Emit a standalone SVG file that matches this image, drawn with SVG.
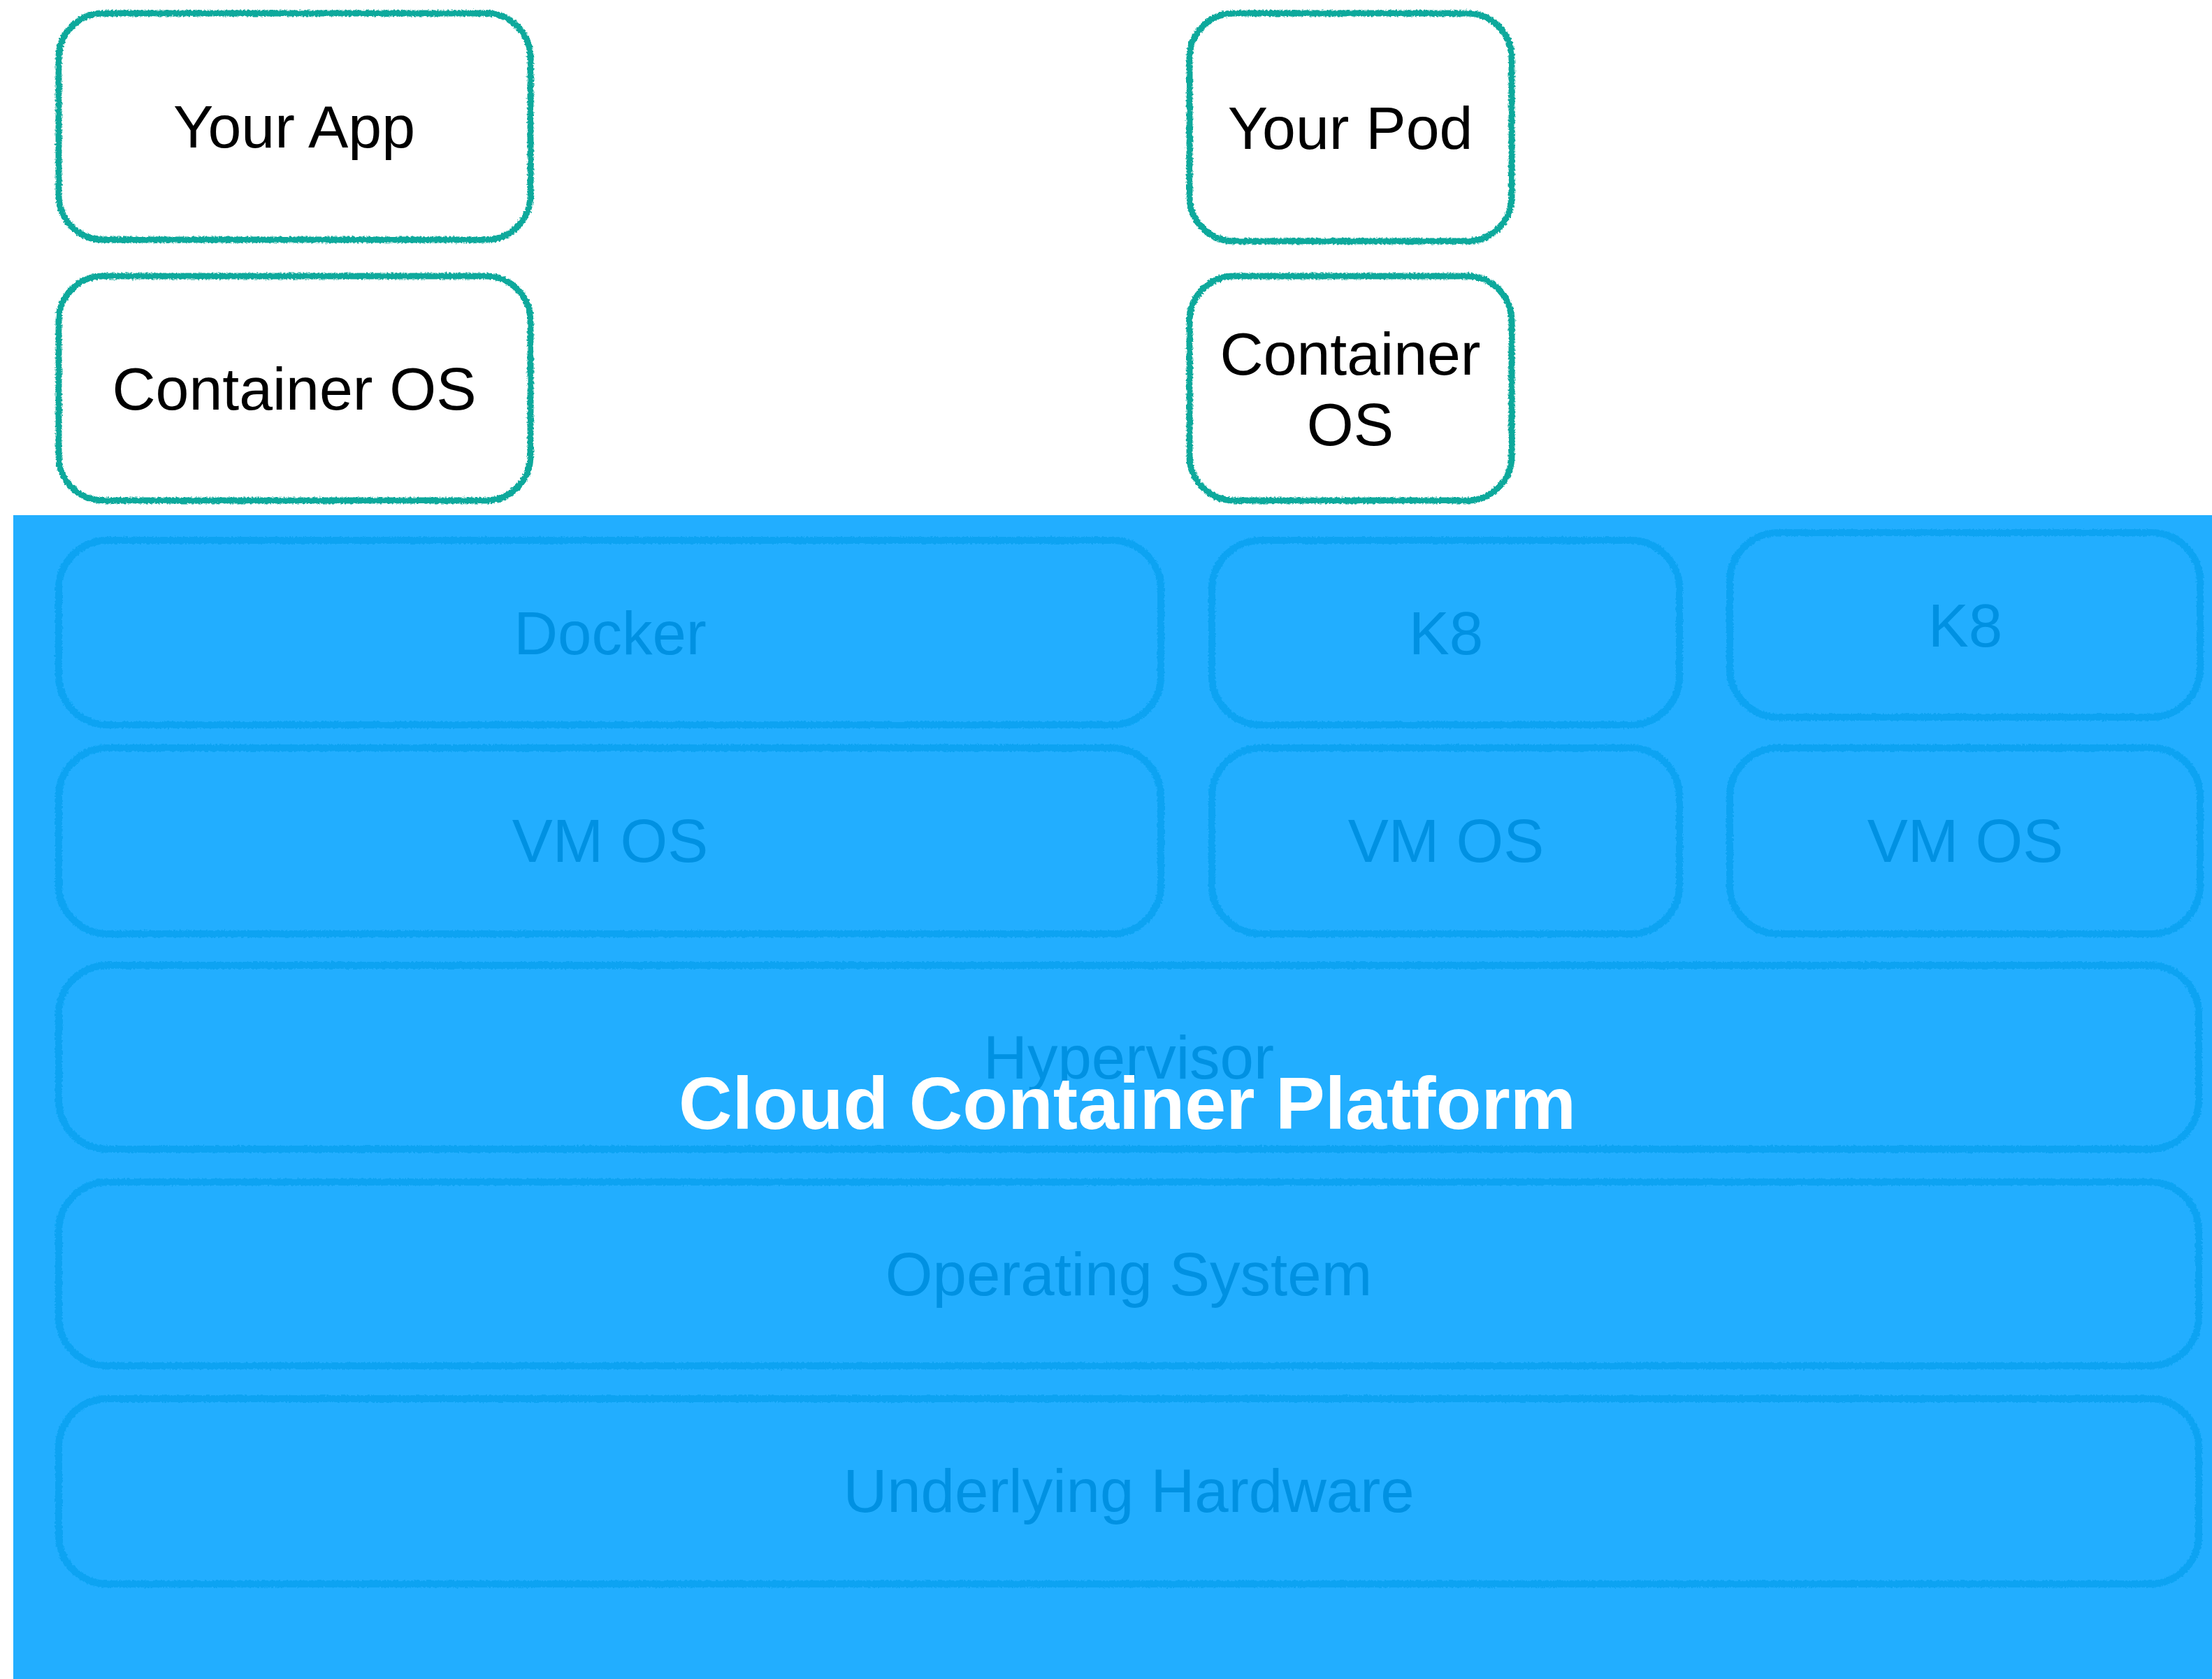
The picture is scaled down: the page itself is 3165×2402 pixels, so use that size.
<svg xmlns="http://www.w3.org/2000/svg" width="3165" height="2402" viewBox="0 0 3165 2402">
<style>
.top{fill:none;stroke:#0FA99C;stroke-width:9}
.low{fill:none;stroke:#0AA3F2;stroke-width:10}
.tt{font-family:"Liberation Sans",Arial,sans-serif;font-size:86px;fill:#000;text-anchor:middle}
.bt{font-family:"Liberation Sans",Arial,sans-serif;font-size:87px;fill:#0091E2;text-anchor:middle}
.title{font-family:"Liberation Sans",Arial,sans-serif;font-size:106px;font-weight:bold;fill:#fff;text-anchor:middle}
</style>
<defs>
<filter id="rough" x="-5%" y="-10%" width="110%" height="120%">
<feTurbulence type="fractalNoise" baseFrequency="0.35" numOctaves="2" seed="3" result="n"/>
<feDisplacementMap in="SourceGraphic" in2="n" scale="5" xChannelSelector="R" yChannelSelector="G"/>
</filter>
</defs>
<rect x="0" y="0" width="3165" height="2402" fill="#fff"/>
<rect id="platform-bg" x="19" y="737" width="3146" height="1665" fill="#22AEFF"/>
<g id="your-app"><rect class="top" filter="url(#rough)" x="84" y="19" width="675" height="324" rx="64"/><text class="tt" x="421" y="211">Your App</text></g>
<g id="container-os-1"><rect class="top" filter="url(#rough)" x="84" y="395" width="675" height="321" rx="64"/><text class="tt" x="421" y="586">Container OS</text></g>
<g id="your-pod"><rect class="top" filter="url(#rough)" x="1702" y="19" width="461" height="326" rx="64"/><text class="tt" x="1932" y="213">Your Pod</text></g>
<g id="container-os-2"><rect class="top" filter="url(#rough)" x="1702" y="395" width="461" height="321" rx="64"/><text class="tt" x="1932" y="536">Container</text><text class="tt" x="1932" y="637">OS</text></g>
<g id="docker"><rect class="low" filter="url(#rough)" x="84" y="773" width="1577" height="264" rx="70"/><text class="bt" x="873" y="936">Docker</text></g>
<g id="k8-1"><rect class="low" filter="url(#rough)" x="1734" y="773" width="669" height="264" rx="70"/><text class="bt" x="2069" y="936">K8</text></g>
<g id="k8-2"><rect class="low" filter="url(#rough)" x="2475" y="762" width="673" height="264" rx="70"/><text class="bt" x="2812" y="925">K8</text></g>
<g id="vm-os-1"><rect class="low" filter="url(#rough)" x="84" y="1070" width="1577" height="266" rx="70"/><text class="bt" x="873" y="1233">VM OS</text></g>
<g id="vm-os-2"><rect class="low" filter="url(#rough)" x="1734" y="1070" width="669" height="266" rx="70"/><text class="bt" x="2069" y="1233">VM OS</text></g>
<g id="vm-os-3"><rect class="low" filter="url(#rough)" x="2475" y="1070" width="673" height="266" rx="70"/><text class="bt" x="2812" y="1233">VM OS</text></g>
<g id="hypervisor"><rect class="low" filter="url(#rough)" x="84" y="1381" width="3062" height="263" rx="70"/><text class="bt" x="1615" y="1543">Hypervisor</text></g>
<g id="operating-system"><rect class="low" filter="url(#rough)" x="84" y="1691" width="3062" height="263" rx="70"/><text class="bt" x="1615" y="1853">Operating System</text></g>
<g id="underlying-hardware"><rect class="low" filter="url(#rough)" x="84" y="2001" width="3062" height="265" rx="70"/><text class="bt" x="1615" y="2163">Underlying Hardware</text></g>
<g id="connectors"></g>
<g id="title"><text class="title" x="1613" y="1615">Cloud Container Platform</text></g>
</svg>
